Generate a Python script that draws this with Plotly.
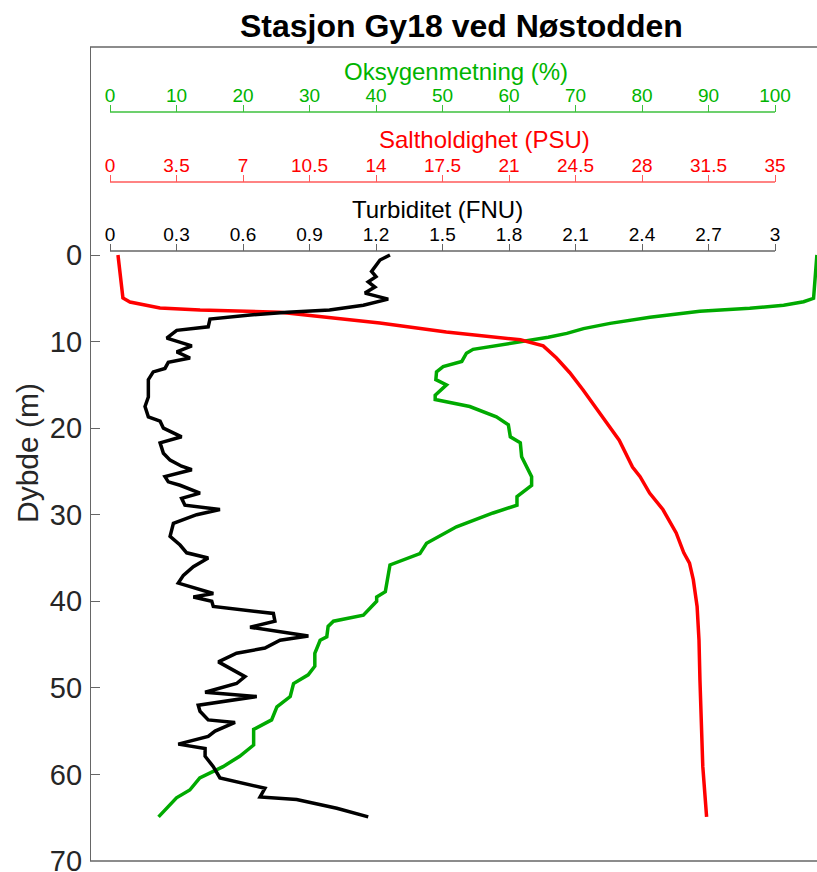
import plotly.graph_objects as go

# ---------------- data ----------------
oxy_depth = [0, 5.0, 5.4, 5.8, 6.15, 6.5, 7.2, 7.9, 8.5, 9.05, 9.5, 10.0, 10.9, 11.35, 12.3,
             12.9, 13.5, 14.4, 15.0, 16.2, 16.7, 17.5, 18.7, 19.6, 21.0, 21.7, 23.3, 25.6,
             26.6, 27.9, 28.9, 29.8, 31.4, 33.3, 34.5, 35.8, 38.9, 39.5, 40.0, 41.6, 42.3,
             42.9, 44.1, 44.5, 46.0, 47.5, 48.5, 49.5, 51.0, 52.2, 53.7, 54.8, 56.6, 57.9,
             59.1, 60.4, 61.8, 62.7, 64.9]
oxy_value = [106.3, 105.8, 104.3, 101.3, 96.2, 88.7, 81.2, 75.2, 71.2, 68.7, 65.9, 61.7, 54.6,
             53.6, 52.9, 50.1, 49.1, 49.0, 50.6, 48.9, 48.9, 54.1, 58.1, 59.9, 60.2, 61.7, 61.9,
             63.4, 63.4, 61.2, 61.2, 57.6, 52.1, 47.6, 46.6, 42.1, 41.4, 40.1, 40.1, 38.1, 33.6,
             32.8, 32.6, 31.6, 30.8, 30.8, 29.8, 27.6, 27.1, 25.1, 24.3, 21.6, 21.6, 19.5, 17.0,
             13.5, 12.0, 10.0, 7.3]

sal_depth = [0, 4.97, 5.43, 5.77, 6.12, 6.35, 6.6, 7.85, 8.9, 9.8, 10.5, 11.9, 13.6, 15.6,
             17.1, 19.9, 21.4, 24.5, 25.6, 27.5, 29.4, 32.1, 34.4, 35.6, 37.5, 40.6, 44.5,
             49.1, 54.5, 59.1, 64.9]
sal_value = [0.42, 0.68, 1.05, 1.74, 2.63, 4.74, 8.95, 14.2, 17.7, 21.6, 22.8, 23.5, 24.2,
             24.9, 25.4, 26.3, 26.8, 27.5, 27.9, 28.4, 29.1, 29.8, 30.2, 30.5, 30.7, 30.9,
             31.0, 31.05, 31.14, 31.2, 31.4]

turb_depth = [0, 0.58, 1.9, 2.5, 3.1, 3.7, 4.4, 5.1, 5.8, 6.35, 6.6, 6.93, 7.4, 8.3, 8.7, 9.6,
              10.5, 11.2, 11.9, 12.4, 13.1, 13.5, 14.4, 16.4, 17.5, 18.7, 19.2, 20.0, 21.0,
              21.7, 22.9, 23.7, 24.4, 24.8, 25.6, 26.2, 26.6, 27.1, 27.5, 28.1, 28.9, 29.4,
              30.0, 31.0, 32.5, 33.5, 34.4, 35.0, 36.0, 37.0, 37.9, 39.1, 39.5, 40.0, 40.6,
              41.4, 42.3, 43.0, 44.0, 44.5, 45.4, 46.0, 47.0, 48.7, 49.5, 50.5, 51.0, 52.0,
              52.7, 53.7, 54.0, 55.0, 55.6, 56.5, 57.0, 57.9, 59.1, 60.4, 61.6, 62.6, 62.9,
              63.9, 64.9]
turb_value = [1.263, 1.218, 1.18, 1.20, 1.165, 1.195, 1.15, 1.255, 1.143, 0.99, 0.80, 0.632,
              0.451, 0.443, 0.301, 0.256, 0.369, 0.301, 0.361, 0.263, 0.248, 0.195, 0.173,
              0.173, 0.158, 0.173, 0.226, 0.241, 0.323, 0.226, 0.241, 0.271, 0.323, 0.369,
              0.248, 0.263, 0.316, 0.361, 0.406, 0.323, 0.338, 0.496, 0.391, 0.286, 0.271,
              0.316, 0.346, 0.443, 0.376, 0.331, 0.308, 0.466, 0.376, 0.459, 0.466, 0.737,
              0.744, 0.632, 0.895, 0.767, 0.699, 0.571, 0.489, 0.609, 0.571, 0.429, 0.662,
              0.398, 0.406, 0.443, 0.564, 0.474, 0.443, 0.308, 0.429, 0.429, 0.466, 0.496,
              0.699, 0.677, 0.842, 1.023, 1.165]

oxy_ticks = [0, 10, 20, 30, 40, 50, 60, 70, 80, 90, 100]
oxy_labels = ["0", "10", "20", "30", "40", "50", "60", "70", "80", "90", "100"]
sal_ticks = [0, 3.5, 7, 10.5, 14, 17.5, 21, 24.5, 28, 31.5, 35]
sal_labels = ["0", "3.5", "7", "10.5", "14", "17.5", "21", "24.5", "28", "31.5", "35"]
turb_ticks = [0, 0.3, 0.6, 0.9, 1.2, 1.5, 1.8, 2.1, 2.4, 2.7, 3.0]
turb_labels = ["0", "0.3", "0.6", "0.9", "1.2", "1.5", "1.8", "2.1", "2.4", "2.7", "3"]
depth_ticks = [0, 10, 20, 30, 40, 50, 60, 70]

title_text = "Stasjon Gy18 ved Nøstodden"
oxy_title = "Oksygenmetning (%)"
sal_title = "Saltholdighet (PSU)"
turb_title = "Turbiditet (FNU)"
depth_title = "Dybde (m)"

# ---------------- layout geometry ----------------
W, H = 817, 872
ML, MR, MT, MB = 90, 0, 47, 11
PW, PH = W - ML - MR, H - MT - MB
AX0, AX1 = 110, 775          # pixel span of the top scale axes
Y0PX = 255                   # pixel of depth 0

def fx(px):
    return (px - ML) / PW

def fy(py):
    return (H - MB - py) / PH

def xrange_for(vmax):
    k = (AX1 - AX0) / vmax
    return [-(AX0 - ML) / k, vmax + (ML + PW - AX1) / k]

kdep = (H - MB - Y0PX) / 70.0
yrange = [70.0001, -(Y0PX - MT) / kdep]

GREEN = "#00aa00"
GREEN_T = "#00b400"
GREEN_L = "#3cc03c"
RED = "#ff0000"
RED_L = "#ff5a5a"
BLACK = "#000000"
GREY = "#666666"
FONT = "Liberation Sans, Arial, sans-serif"

fig = go.Figure()
fig.add_trace(go.Scatter(x=oxy_value, y=oxy_depth, xaxis="x", yaxis="y", mode="lines",
                         line=dict(color=GREEN, width=3.5), name=oxy_title))
fig.add_trace(go.Scatter(x=sal_value, y=sal_depth, xaxis="x2", yaxis="y", mode="lines",
                         line=dict(color=RED, width=3.5), name=sal_title))
fig.add_trace(go.Scatter(x=turb_value, y=turb_depth, xaxis="x3", yaxis="y", mode="lines",
                         line=dict(color=BLACK, width=3.5), name=turb_title))

pos_g, pos_r, pos_b = fy(112), fy(182), fy(251)

def top_axis(vmax, ticks, labels, pos, tcol, lcol, overlay=None):
    d = dict(range=xrange_for(vmax), anchor="free", position=pos, side="top",
             tickmode="array", tickvals=ticks, ticktext=labels, ticks="outside",
             ticklen=7, tickwidth=1.3, tickcolor=lcol,
             tickfont=dict(size=19, color=tcol, family=FONT),
             ticklabelstandoff=-5, automargin=False,
             showline=False, showgrid=False, zeroline=False, fixedrange=True)
    if overlay:
        d["overlaying"] = overlay
    return d

fig.update_layout(
    width=W, height=H,
    margin=dict(l=ML, r=MR, t=MT, b=MB, autoexpand=False),
    paper_bgcolor="white", plot_bgcolor="white",
    showlegend=False,
    font=dict(family=FONT),
    xaxis=top_axis(100, oxy_ticks, oxy_labels, pos_g, GREEN_T, GREEN_L),
    xaxis2=top_axis(35, sal_ticks, sal_labels, pos_r, RED, RED_L, overlay="x"),
    xaxis3=top_axis(3, turb_ticks, turb_labels, pos_b, BLACK, GREY, overlay="x"),
    yaxis=dict(range=yrange, anchor="free", position=0, tickmode="array",
               tickvals=depth_ticks, ticks="inside", ticklen=9, tickwidth=1.3,
               tickcolor=GREY, showline=True, linecolor=GREY, linewidth=1.3,
               tickfont=dict(size=29, color="#262626", family=FONT),
               ticklabelstandoff=2, ticklabeloverflow="allow", automargin=False,
               showgrid=False, zeroline=False, fixedrange=True),
)

shapes = []
# axis lines of the three top scales
for xr, mx, pos, col in [("x", 100, pos_g, GREEN_L), ("x2", 35, pos_r, RED_L), ("x3", 3, pos_b, GREY)]:
    shapes.append(dict(type="line", xref=xr, yref="paper", x0=0, x1=mx, y0=pos, y1=pos,
                       line=dict(color=col, width=1.3)))
# top and bottom box lines
for yy in (0, 1):
    shapes.append(dict(type="line", xref="paper", yref="paper", x0=0, x1=1, y0=yy, y1=yy,
                       line=dict(color=GREY, width=1.3)))
fig.update_layout(shapes=shapes)

ann = [
    dict(text="<b>" + title_text + "</b>", x=fx(461), y=fy(26), font=dict(size=32, color=BLACK)),
    dict(text=oxy_title, x=fx(456), y=fy(72), font=dict(size=24, color=GREEN_T)),
    dict(text=sal_title, x=fx(484), y=fy(140), font=dict(size=24, color=RED)),
    dict(text=turb_title, x=fx(437), y=fy(209), font=dict(size=24, color=BLACK)),
    dict(text=depth_title, x=fx(28), y=fy(453), textangle=-90, font=dict(size=30, color="#262626")),
]
for a in ann:
    a.update(xref="paper", yref="paper", xanchor="center", yanchor="middle", showarrow=False)
    a["font"]["family"] = FONT
fig.update_layout(annotations=ann)

fig.write_html("out.html", config={"displayModeBar": False},
               post_script="document.body.style.margin='0';document.body.style.overflow='hidden';")
